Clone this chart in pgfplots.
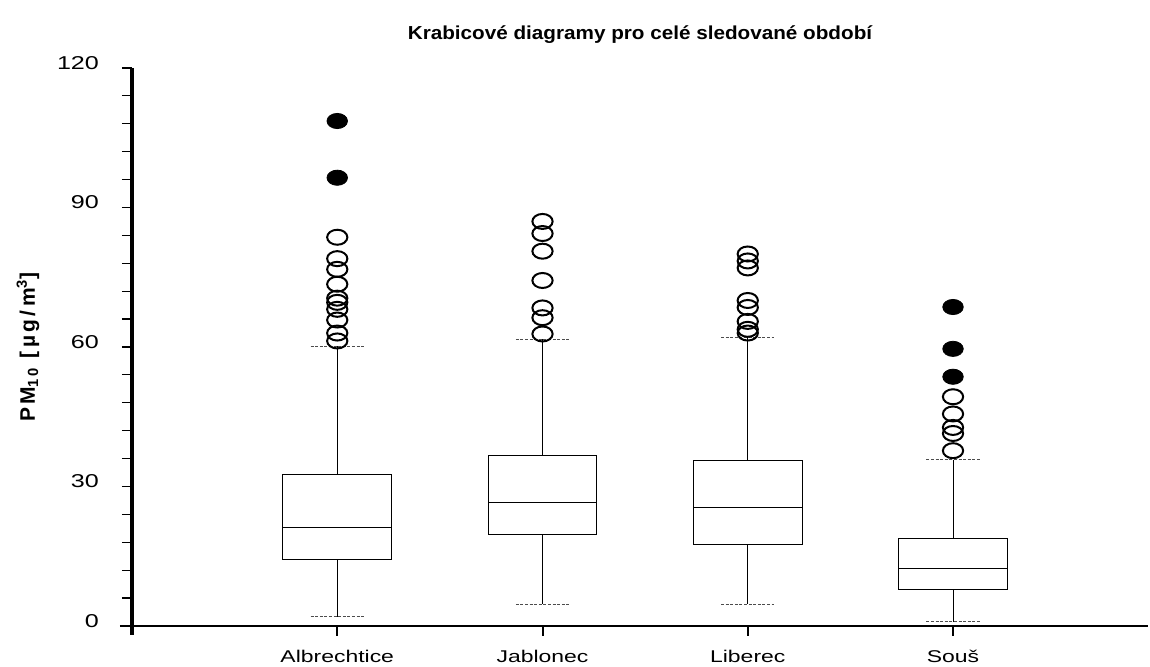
\documentclass[border=0pt]{standalone}
\usepackage{fontspec}
\setmainfont{Liberation Sans}[FakeStretch=1.35]
\newfontfamily\labelfont{Liberation Sans}[LetterSpace=16]
\newfontfamily\titlefont{Liberation Sans}[FakeStretch=1.1]
\usepackage{pgfplots}
\usepgfplotslibrary{statistics}
\pgfplotsset{compat=1.18}

% whiskers: solid stem, fine dashed cap
\pgfplotsset{
  boxplot/draw/lower whisker/.code={%
    \draw[line width=0.5pt] (boxplot box cs:\pgfplotsboxplotvalue{lower quartile},0.5)
      -- (boxplot whisker cs:\pgfplotsboxplotvalue{lower whisker},0.5);
    \draw[line width=0.5pt, black!70, dash pattern=on 1.5pt off 0.8pt]
      (boxplot whisker cs:\pgfplotsboxplotvalue{lower whisker},0)
      -- (boxplot whisker cs:\pgfplotsboxplotvalue{lower whisker},1);
  },
  boxplot/draw/upper whisker/.code={%
    \draw[line width=0.5pt] (boxplot box cs:\pgfplotsboxplotvalue{upper quartile},0.5)
      -- (boxplot whisker cs:\pgfplotsboxplotvalue{upper whisker},0.5);
    \draw[line width=0.5pt, black!70, dash pattern=on 1.5pt off 0.8pt]
      (boxplot whisker cs:\pgfplotsboxplotvalue{upper whisker},0)
      -- (boxplot whisker cs:\pgfplotsboxplotvalue{upper whisker},1);
  },
  pmbox/.style={black, solid, line width=0.5pt, mark=o, mark size=3.75pt,
    mark options={xscale=1.35, line width=1pt, solid}},
  pmfill/.style={only marks, mark=*, mark size=3.8pt, black,
    mark options={xscale=1.35}},
}

\begin{document}
\begin{tikzpicture}
\path[use as bounding box] (-66pt,-20.5pt) rectangle (509pt,313pt);
\begin{axis}[
  scale only axis, width=508pt, height=279pt,
  xmin=0, xmax=4.95, ymin=0, ymax=120,
  axis x line*=bottom, axis y line*=left,
  x axis line style={-, line width=1pt, shorten <=-6pt},
  y axis line style={-, line width=2pt, shorten <=-4.5pt},
  xtick={1,2,3,4},
  xticklabels={Albrechtice, Jablonec, Liberec, Souš},
  ytick={0,30,60,90,120},
  minor y tick num=4,
  tick align=outside,
  major tick length=5pt, minor tick length=5pt,
  x tick style={line width=1pt, black},
  y tick style={line width=0.6pt, black},
  /pgf/number format/assume math mode=true,
  xticklabel style={font=\fontsize{8.5}{10}\selectfont, yshift=-3.5pt},
  yticklabel style={font=\fontsize{9.3}{11}\selectfont, xshift=-8pt, yshift=2.5pt},
  title={Krabicové diagramy pro celé sledované období},
  title style={at={(axis description cs:0.5,1)}, anchor=base, yshift=8pt,
    font=\titlefont\bfseries\fontsize{9.4}{11}\selectfont},
  ylabel={\labelfont\bfseries PM\textsubscript{10} [µg/m\textsuperscript{3}]},
  ylabel style={at={(axis description cs:-0.1024,0.5)}, anchor=center,
    font=\fontsize{10.5}{12}\selectfont},
  boxplot/draw direction=y,
  clip=false,
]

% Albrechtice
\addplot[pmbox, boxplot prepared={draw position=1, lower whisker=2,
  lower quartile=14.4, median=21.2, upper quartile=32.6, upper whisker=60.2,
  box extend=0.53, whisker extend=0.26}]
  table[row sep=\\, y index=0] {y\\ 83.6\\ 79\\ 76.7\\ 73.5\\ 70.5\\ 69.6\\ 68.1\\ 65.8\\ 63\\ 61.3\\};
\addplot[pmfill] coordinates {(1,108.6) (1,96.4)};

% Jablonec
\addplot[pmbox, boxplot prepared={draw position=2, lower whisker=4.7,
  lower quartile=19.6, median=26.6, upper quartile=36.6, upper whisker=61.7,
  box extend=0.53, whisker extend=0.26}]
  table[row sep=\\, y index=0] {y\\ 87\\ 84.4\\ 80.6\\ 74.3\\ 68.4\\ 66.3\\ 62.8\\};

% Liberec
\addplot[pmbox, boxplot prepared={draw position=3, lower whisker=4.7,
  lower quartile=17.6, median=25.5, upper quartile=35.6, upper whisker=62,
  box extend=0.53, whisker extend=0.26}]
  table[row sep=\\, y index=0] {y\\ 80\\ 78.5\\ 77\\ 70\\ 68.5\\ 65.5\\ 63.8\\ 63\\};

% Sous
\addplot[pmbox, boxplot prepared={draw position=4, lower whisker=0.9,
  lower quartile=7.9, median=12.4, upper quartile=18.9, upper whisker=35.8,
  box extend=0.53, whisker extend=0.26}]
  table[row sep=\\, y index=0] {y\\ 49.3\\ 45.6\\ 42.7\\ 41.4\\ 37.7\\};
\addplot[pmfill] coordinates {(4,68.6) (4,59.6) (4,53.6)};

\end{axis}
\end{tikzpicture}
\end{document}
